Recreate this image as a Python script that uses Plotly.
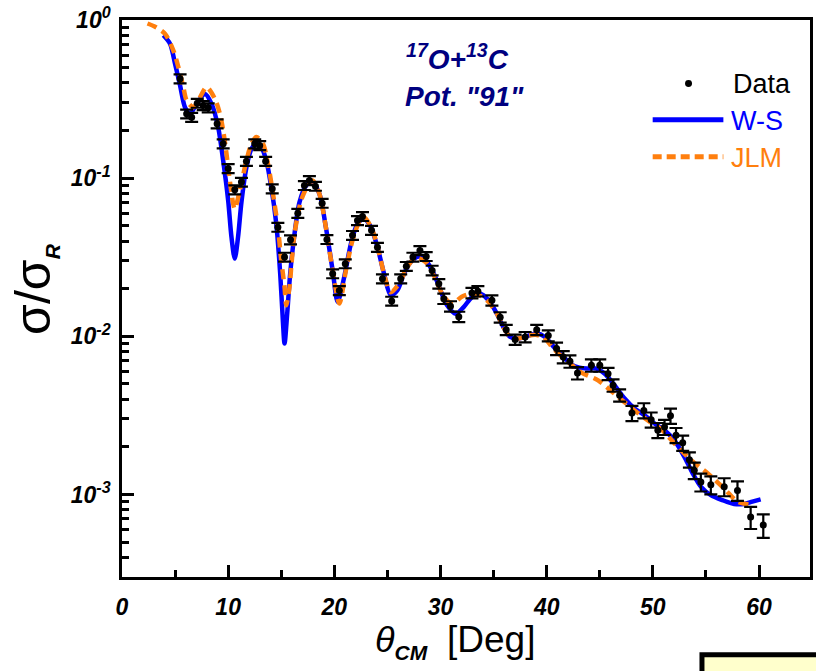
import plotly.graph_objects as go

# ---- measured elastic-scattering ratio sigma/sigma_R ----
theta_data = [5.47, 6.09, 6.56, 7.09, 7.65, 8.12, 8.96, 9.53, 10.0, 10.62,
              11.25, 11.72, 12.5, 12.97, 13.53, 14.15, 14.68, 15.31, 15.87, 16.56,
              17.18, 17.65, 18.22, 18.85, 19.3, 19.84, 20.47, 21.03, 21.71, 22.18,
              22.65, 23.5, 24.06, 24.53, 25.4, 26.25, 26.78, 27.4, 28.06, 28.65,
              29.21, 29.84, 30.31, 30.94, 31.72, 32.96, 33.52, 34.84, 35.62, 36.19,
              37.03, 37.97, 39.06, 40.15, 40.93, 41.56, 42.19, 42.9, 44.21, 45.0,
              45.78, 46.25, 46.87, 48.03, 49.15, 49.84, 50.47, 51.1, 51.66, 52.18,
              52.81, 53.44, 53.9, 54.52, 55.46, 56.72, 57.97, 59.21, 60.4]
ratio_data = [0.425, 0.255, 0.243, 0.298, 0.288, 0.279, 0.221, 0.165, 0.115, 0.0845,
              0.0944, 0.128, 0.165, 0.161, 0.128, 0.0857, 0.049, 0.0317, 0.0408, 0.060,
              0.090, 0.0967, 0.089, 0.0695, 0.041, 0.0249, 0.0195, 0.0288, 0.0435, 0.054,
              0.0573, 0.0468, 0.0366, 0.0231, 0.0167, 0.0231, 0.0277, 0.0317, 0.0349, 0.032,
              0.0261, 0.0215, 0.0173, 0.0155, 0.0133, 0.0188, 0.0193, 0.0169, 0.0132, 0.0110,
              0.00953, 0.0099, 0.011, 0.0101, 0.00836, 0.0074, 0.00695, 0.00586, 0.00656, 0.00656,
              0.0058, 0.0049, 0.00424, 0.00327, 0.0034, 0.00297, 0.00255, 0.00267, 0.00314, 0.00237,
              0.00212, 0.00166, 0.00142, 0.0012, 0.00115, 0.00112, 0.00106, 0.00072, 0.00064]
# relative uncertainties in percent
ratio_err_pct = [6.5, 6.5, 6.5, 6.5, 6.5, 6.5, 6.5, 6.5, 6.5, 6.5,
                 6.5, 6.5, 6.5, 6.5, 6.5, 6.5, 6.5, 6.5, 6.5, 6.5,
                 6.5, 6.5, 6.5, 6.5, 6.5, 6.5, 6.5, 6.5, 6.5, 6.5,
                 6.5, 6.5, 6.5, 6.5, 6.5, 6.5, 6.5, 6.5, 6.5, 6.5,
                 7.0, 7.0, 7.5, 7.5, 7.5, 7.5, 7.5, 7.5, 7.5, 7.5,
                 7.5, 7.5, 7.5, 8.0, 9.0, 9.0, 9.0, 9.0, 9.0, 9.0,
                 9.0, 9.0, 9.0, 11.0, 11.0, 11.0, 11.0, 11.0, 11.0, 11.0,
                 11.0, 11.0, 12.0, 13.0, 13.0, 13.0, 14.0, 16.0, 17.0]
ratio_err = [v * p / 100.0 for v, p in zip(ratio_data, ratio_err_pct)]

# ---- Woods-Saxon optical-model calculation ----
theta_ws = [3.9, 4.53, 5.0, 5.47, 5.93, 6.4, 7.03, 7.81, 8.44, 9.06,
            9.53, 10.0, 10.31, 10.62, 10.93, 11.25, 11.72, 12.19, 12.66, 13.12,
            13.59, 14.06, 14.53, 14.9, 15.15, 15.31, 15.56, 15.84, 16.25, 16.72,
            17.34, 17.9, 18.59, 19.2, 19.84, 20.31, 20.93, 21.56, 22.18, 22.81,
            23.44, 24.06, 24.68, 25.31, 25.93, 26.56, 27.19, 27.97, 28.6, 29.37,
            30.0, 30.62, 31.41, 32.18, 32.96, 33.75, 34.53, 35.31, 35.93, 36.56,
            37.34, 38.28, 39.06, 39.84, 40.78, 41.72, 42.65, 43.75, 44.68, 45.47,
            46.4, 47.34, 48.28, 49.22, 50.16, 51.1, 52.03, 52.97, 53.75, 54.52,
            55.46, 56.56, 57.66, 58.59, 59.37, 60.15]
ratio_ws = [0.80, 0.706, 0.528, 0.385, 0.281, 0.255, 0.295, 0.341, 0.295, 0.21,
            0.129, 0.0723, 0.0424, 0.031, 0.0424, 0.0705, 0.117, 0.153, 0.165, 0.157,
            0.129, 0.0877, 0.0515, 0.0249, 0.0126, 0.009, 0.0139, 0.0249, 0.0445, 0.0705,
            0.090, 0.0944, 0.0797, 0.0490, 0.0261, 0.0165, 0.0237, 0.0385, 0.0515, 0.0554,
            0.049, 0.0366, 0.0249, 0.0182, 0.0195, 0.0249, 0.0295, 0.032, 0.0302, 0.0249,
            0.0195, 0.0157, 0.0139, 0.0153, 0.0177, 0.0186, 0.0169, 0.0139, 0.0114, 0.0099,
            0.00967, 0.0101, 0.0104, 0.0099, 0.0084, 0.00723, 0.00646, 0.00625, 0.00625, 0.0058,
            0.0049, 0.00404, 0.00349, 0.00317, 0.00281, 0.00255, 0.0022, 0.00173, 0.00136, 0.00112,
            0.00099, 0.00092, 0.00087, 0.00087, 0.0009, 0.00093]

# ---- JLM folding-model calculation ----
theta_jlm = [2.4, 3.2, 4.06, 4.84, 5.31, 5.78, 6.09, 6.72, 7.3, 7.97,
             8.75, 9.22, 9.53, 9.84, 10.15, 10.62, 11.09, 11.72, 12.19, 12.66,
             13.28, 13.75, 14.22, 14.68, 15.0, 15.31, 15.47, 15.78, 15.94, 16.25,
             16.87, 17.5, 17.96, 18.59, 19.2, 19.84, 20.47, 21.09, 21.71, 22.34,
             22.81, 23.59, 24.22, 24.84, 25.31, 26.09, 26.87, 27.66, 28.6, 29.37,
             30.15, 30.78, 31.3, 32.0, 33.0, 33.8, 34.53, 35.31, 35.93, 36.56,
             37.34, 38.28, 39.06, 39.69, 40.78, 42.03, 43.28, 44.84, 46.72, 48.28,
             49.53, 50.78, 52.34, 53.59, 55.15, 56.72, 57.97, 59.2]
ratio_jlm = [0.95, 0.90, 0.817, 0.641, 0.503, 0.376, 0.31, 0.281, 0.32, 0.376,
             0.317, 0.255, 0.2, 0.143, 0.0967, 0.064, 0.0836, 0.129, 0.165, 0.182,
             0.165, 0.123, 0.0797, 0.049, 0.0302, 0.0205, 0.0157, 0.0205, 0.0274, 0.0445,
             0.0723, 0.090, 0.0967, 0.0797, 0.0490, 0.0261, 0.0161, 0.0261, 0.0404, 0.0527,
             0.0567, 0.0468, 0.0333, 0.0226, 0.019, 0.0215, 0.0274, 0.0314, 0.0295, 0.0243,
             0.0186, 0.0165, 0.0163, 0.0178, 0.0186, 0.0180, 0.0165, 0.0139, 0.0114, 0.0099,
             0.00967, 0.0101, 0.0102, 0.0099, 0.00816, 0.00688, 0.0059, 0.00527, 0.00414, 0.0034,
             0.00294, 0.00258, 0.0020, 0.00165, 0.00136, 0.00109, 0.0009, 0.00086]

x_ticks = [0, 10, 20, 30, 40, 50, 60]
y_ticks = [1e-3, 1e-2, 1e-1, 1.0]
y_ticktext = ["10<sup>-3</sup>", "10<sup>-2</sup>", "10<sup>-1</sup>", "10<sup>0</sup>"]

BLUE = "#0000FF"
ORANGE = "#FF7F0E"
NAVY = "#000080"
FONT = "Liberation Sans"

W, H = 816, 671
L, R, T, B = 122, 3, 19, 94
PW, PH = W - L - R, H - T - B


def fx(px):
    return (px - L) / PW


def fy(py):
    return (H - B - py) / PH


fig = go.Figure()

fig.add_trace(go.Scatter(
    x=theta_ws, y=ratio_ws, mode="lines", name="W-S",
    line=dict(color=BLUE, width=4.5, shape="spline", smoothing=0.8),
    showlegend=False))

fig.add_trace(go.Scatter(
    x=theta_jlm, y=ratio_jlm, mode="lines", name="JLM",
    line=dict(color=ORANGE, width=4.5, dash="10px,6px", shape="spline", smoothing=0.8),
    showlegend=False))

fig.add_trace(go.Scatter(
    x=theta_data, y=ratio_data, mode="markers", name="Data",
    marker=dict(color="black", size=7),
    error_y=dict(type="data", array=ratio_err, visible=True,
                 color="black", thickness=2.2, width=6.5),
    showlegend=False))

axis_common = dict(
    showline=True, linecolor="black", linewidth=2.5, mirror=True,
    ticks="inside", tickcolor="black", tickwidth=2.5, ticklen=12,
    showgrid=False, zeroline=False,
    tickfont=dict(family=FONT, size=23, color="black", weight="bold", style="italic"),
)

fig.update_xaxes(
    range=[0, 64.8], tickvals=x_ticks,
    minor=dict(dtick=5, ticks="inside", ticklen=7, tickwidth=2.5, tickcolor="black", showgrid=False),
    ticklabelstandoff=8,
    **axis_common)

fig.update_yaxes(
    type="log", range=[-3.522, 0], tickvals=y_ticks, ticktext=y_ticktext,
    minor=dict(dtick="D1", ticks="inside", ticklen=7, tickwidth=2.5, tickcolor="black", showgrid=False),
    ticklabelstandoff=4,
    **axis_common)

annotations = [
    dict(text="<sup>17</sup>O+<sup>13</sup>C", x=fx(405), y=fy(56), xanchor="left", yanchor="middle",
         font=dict(family=FONT, size=28, color=NAVY, weight="bold", style="italic")),
    dict(text="Pot. \"91\"", x=fx(404), y=fy(96), xanchor="left", yanchor="middle",
         font=dict(family=FONT, size=28, color=NAVY, weight="bold", style="italic")),
    # legend entries
    dict(text="Data", x=fx(734), y=fy(83), xanchor="left", yanchor="middle",
         font=dict(family=FONT, size=27, color="black")),
    dict(text="W-S", x=fx(732), y=fy(120), xanchor="left", yanchor="middle",
         font=dict(family=FONT, size=27, color=BLUE)),
    dict(text="JLM", x=fx(732), y=fy(157), xanchor="left", yanchor="middle",
         font=dict(family=FONT, size=27, color=ORANGE)),
    # axis titles
    dict(text="σ/σ<sub><span style='font-size:21px'><b><i>R</i></b></span></sub>",
         x=fx(34), y=fy(288), xanchor="center", yanchor="middle",
         textangle=-90, font=dict(family=FONT, size=50, color="black")),
    dict(text="<i>θ</i><sub><span style='font-size:21px'><b><i>CM</i></b></span></sub>",
         x=fx(374), y=fy(642), xanchor="left", yanchor="middle",
         font=dict(family=FONT, size=36, color="black")),
    dict(text="[Deg]", x=fx(446), y=fy(640), xanchor="left", yanchor="middle",
         font=dict(family=FONT, size=37, color="black")),
]
for a in annotations:
    a.update(xref="paper", yref="paper", showarrow=False)

shapes = [
    # legend samples
    dict(type="circle", xref="paper", yref="paper",
         x0=fx(687.5), x1=fx(694.5), y0=fy(79), y1=fy(86),
         fillcolor="black", line=dict(color="black", width=0)),
    dict(type="line", xref="paper", yref="paper",
         x0=fx(655), x1=fx(726), y0=fy(119), y1=fy(119),
         line=dict(color=BLUE, width=5)),
    dict(type="line", xref="paper", yref="paper",
         x0=fx(655), x1=fx(726), y0=fy(156), y1=fy(156),
         line=dict(color=ORANGE, width=5, dash="9px,5px")),
    # pale note box at the lower right corner
    dict(type="rect", xref="paper", yref="paper",
         x0=fx(704.5), x1=fx(840), y0=fy(655), y1=fy(700),
         fillcolor="#FFFFCC", line=dict(color="black", width=5)),
]

fig.update_layout(
    width=W, height=H,
    margin=dict(l=L, r=R, t=T, b=B),
    paper_bgcolor="white", plot_bgcolor="white",
    showlegend=False,
    annotations=annotations, shapes=shapes,
)

fig.write_html("out.html")
